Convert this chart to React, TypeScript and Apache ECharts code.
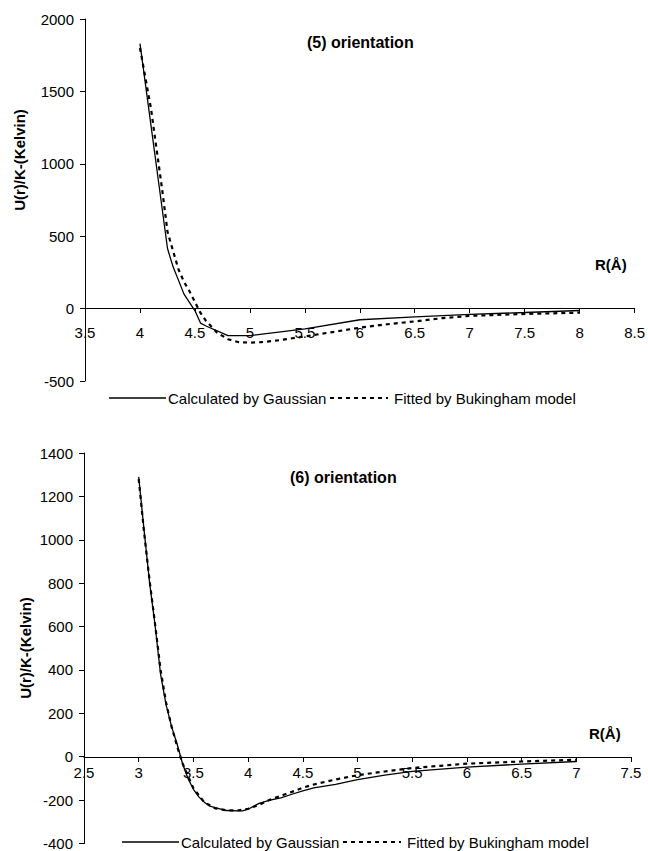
import React, { useEffect, useRef } from "react";
import * as echarts from "echarts";

// (5) orientation
const topGaussR = [4.0, 4.25, 4.3, 4.4, 4.5, 4.55, 4.6, 4.8, 5.0, 5.5, 6.0, 6.5, 7.0, 7.5, 8.0];
const topGaussU = [1830, 415, 290, 100, -15, -100, -120, -187, -187, -140, -77, -57, -40, -27, -13];
const topBuckR = [4.0, 4.1, 4.2, 4.25, 4.3, 4.35, 4.4, 4.45, 4.5, 4.55, 4.6, 4.7, 4.8, 4.9, 5.0, 5.1, 5.25, 5.5, 5.75, 6.0, 6.25, 6.5, 6.75, 7.0, 7.5, 8.0];
const topBuckU = [1800, 1380, 830, 530, 400, 270, 185, 120, 45, -30, -85, -165, -212, -232, -235, -232, -220, -192, -162, -132, -108, -88, -66, -50, -37, -28];

// (6) orientation
const botGaussR = [3.0, 3.05, 3.1, 3.15, 3.2, 3.25, 3.3, 3.35, 3.4, 3.45, 3.5, 3.55, 3.6, 3.65, 3.7, 3.8, 3.9, 3.95, 4.0, 4.1, 4.2, 4.3, 4.4, 4.5, 4.6, 4.8, 5.0, 5.25, 5.5, 6.0, 6.5, 7.0];
const botGaussU = [1290, 1040, 800, 605, 380, 240, 140, 60, -30, -100, -150, -185, -210, -228, -235, -248, -250, -250, -242, -215, -200, -190, -173, -157, -144, -127, -106, -85, -68, -48, -34, -22];
const botBuckR = [3.0, 3.05, 3.1, 3.15, 3.2, 3.25, 3.3, 3.35, 3.4, 3.5, 3.6, 3.7, 3.8, 3.9, 4.0, 4.1, 4.2, 4.3, 4.4, 4.5, 4.6, 4.8, 5.0, 5.25, 5.5, 6.0, 6.5, 7.0];
const botBuckU = [1280, 1030, 810, 610, 400, 250, 140, 50, -30, -145, -210, -238, -247, -248, -240, -222, -198, -180, -162, -143, -128, -105, -85, -68, -52, -32, -22, -14];

const seriesNames = ["Calculated by Gaussian", "Fitted by Bukingham model"];
const titles = ["(5) orientation", "(6) orientation"];
const yName = "U(r)/K-(Kelvin)";
const xName = "R(Å)";

const zip = (a: number[], b: number[]) => a.map((v, i) => [v, b[i]]);

const FONT = "'Liberation Sans', Arial, sans-serif";
const DASH = [4, 4];

function legendGraphic(x: number, y: number) {
  return [
    { type: "line", shape: { x1: x, y1: y, x2: x + 57, y2: y }, style: { stroke: "#000", lineWidth: 1.3 } },
    { type: "text", x: x + 59, y, style: { text: seriesNames[0], font: `15px ${FONT}`, fill: "#000", textAlign: "left", textVerticalAlign: "middle" } },
    { type: "line", shape: { x1: x + 221, y1: y, x2: x + 279, y2: y }, style: { stroke: "#000", lineWidth: 2, lineDash: DASH } },
    { type: "text", x: x + 285, y, style: { text: seriesNames[1], font: `15px ${FONT}`, fill: "#000", textAlign: "left", textVerticalAlign: "middle" } },
  ];
}

export default function App() {
  const ref = useRef<HTMLDivElement>(null);
  useEffect(() => {
    if (!ref.current) return;
    const chart = echarts.init(ref.current, null, { renderer: "svg" });
    const lineStyleAxis = { color: "#000", width: 1 };
    const axisTick = { show: true, length: 5, lineStyle: { color: "#000" } };
    const splitLine = { show: false };
    const fmt = (v: number) => String(v);
    const solid = { color: "#000", width: 1.3, type: "solid" as const };
    const dotted = { color: "#000", width: 2.2, type: DASH };
    const label = (margin: number) => ({ color: "#000", fontSize: 15, margin, fontFamily: FONT, formatter: fmt });
    chart.setOption({
      animation: false,
      backgroundColor: "#fff",
      textStyle: { fontFamily: FONT },
      title: [
        { text: titles[0], left: 302, top: 29, textStyle: { fontSize: 16, fontWeight: "bold", color: "#000", fontFamily: FONT } },
        { text: titles[1], left: 285, top: 464, textStyle: { fontSize: 16, fontWeight: "bold", color: "#000", fontFamily: FONT } },
      ],
      grid: [
        // data grids
        { left: 85, top: 19, width: 550, height: 362 },
        { left: 84, top: 453, width: 547, height: 391 },
        // x-axis grids whose bottom edge is the U = 0 line
        { left: 85, top: 19, width: 550, height: 289 },
        { left: 84, top: 453, width: 547, height: 304 },
      ],
      xAxis: [
        { type: "value", gridIndex: 0, min: 3.5, max: 8.5, interval: 0.5, show: false },
        { type: "value", gridIndex: 1, min: 2.5, max: 7.5, interval: 0.5, show: false },
        {
          type: "value", gridIndex: 2, min: 3.5, max: 8.5, interval: 0.5,
          axisLine: { show: true, onZero: false, lineStyle: lineStyleAxis }, axisTick, splitLine,
          axisLabel: label(17),
        },
        {
          type: "value", gridIndex: 3, min: 2.5, max: 7.5, interval: 0.5,
          axisLine: { show: true, onZero: false, lineStyle: lineStyleAxis }, axisTick, splitLine,
          axisLabel: label(8),
        },
      ],
      yAxis: [
        {
          type: "value", gridIndex: 0, min: -500, max: 2000, interval: 500,
          axisLine: { show: true, onZero: false, lineStyle: lineStyleAxis }, axisTick, splitLine,
          axisLabel: label(11),
        },
        {
          type: "value", gridIndex: 1, min: -400, max: 1400, interval: 200,
          axisLine: { show: true, onZero: false, lineStyle: lineStyleAxis }, axisTick, splitLine,
          axisLabel: label(11),
        },
        { type: "value", gridIndex: 2, min: 0, max: 2000, show: false },
        { type: "value", gridIndex: 3, min: 0, max: 1400, show: false },
      ],
      graphic: [
        { type: "text", x: 19, y: 160, rotation: Math.PI / 2, style: { text: yName, font: `bold 15px ${FONT}`, fill: "#000", textAlign: "center", textVerticalAlign: "middle" } },
        { type: "text", x: 25, y: 648, rotation: Math.PI / 2, style: { text: yName, font: `bold 15px ${FONT}`, fill: "#000", textAlign: "center", textVerticalAlign: "middle" } },
        { type: "text", x: 595, y: 264, style: { text: xName, font: `bold 15px ${FONT}`, fill: "#000", textAlign: "left", textVerticalAlign: "middle" } },
        { type: "text", x: 589, y: 733, style: { text: xName, font: `bold 15px ${FONT}`, fill: "#000", textAlign: "left", textVerticalAlign: "middle" } },
        ...legendGraphic(109, 398),
        ...legendGraphic(122, 842),
      ],
      series: [
        { name: seriesNames[0], type: "line", xAxisIndex: 0, yAxisIndex: 0, data: zip(topGaussR, topGaussU), symbol: "none", lineStyle: solid },
        { name: seriesNames[1], type: "line", xAxisIndex: 0, yAxisIndex: 0, data: zip(topBuckR, topBuckU), symbol: "none", lineStyle: dotted },
        { name: seriesNames[0], type: "line", xAxisIndex: 1, yAxisIndex: 1, data: zip(botGaussR, botGaussU), symbol: "none", lineStyle: solid },
        { name: seriesNames[1], type: "line", xAxisIndex: 1, yAxisIndex: 1, data: zip(botBuckR, botBuckU), symbol: "none", lineStyle: dotted },
      ],
    });
    return () => chart.dispose();
  }, []);
  return <div ref={ref} style={{ position: "fixed", left: 0, top: 0, width: 648, height: 851 }} />;
}
